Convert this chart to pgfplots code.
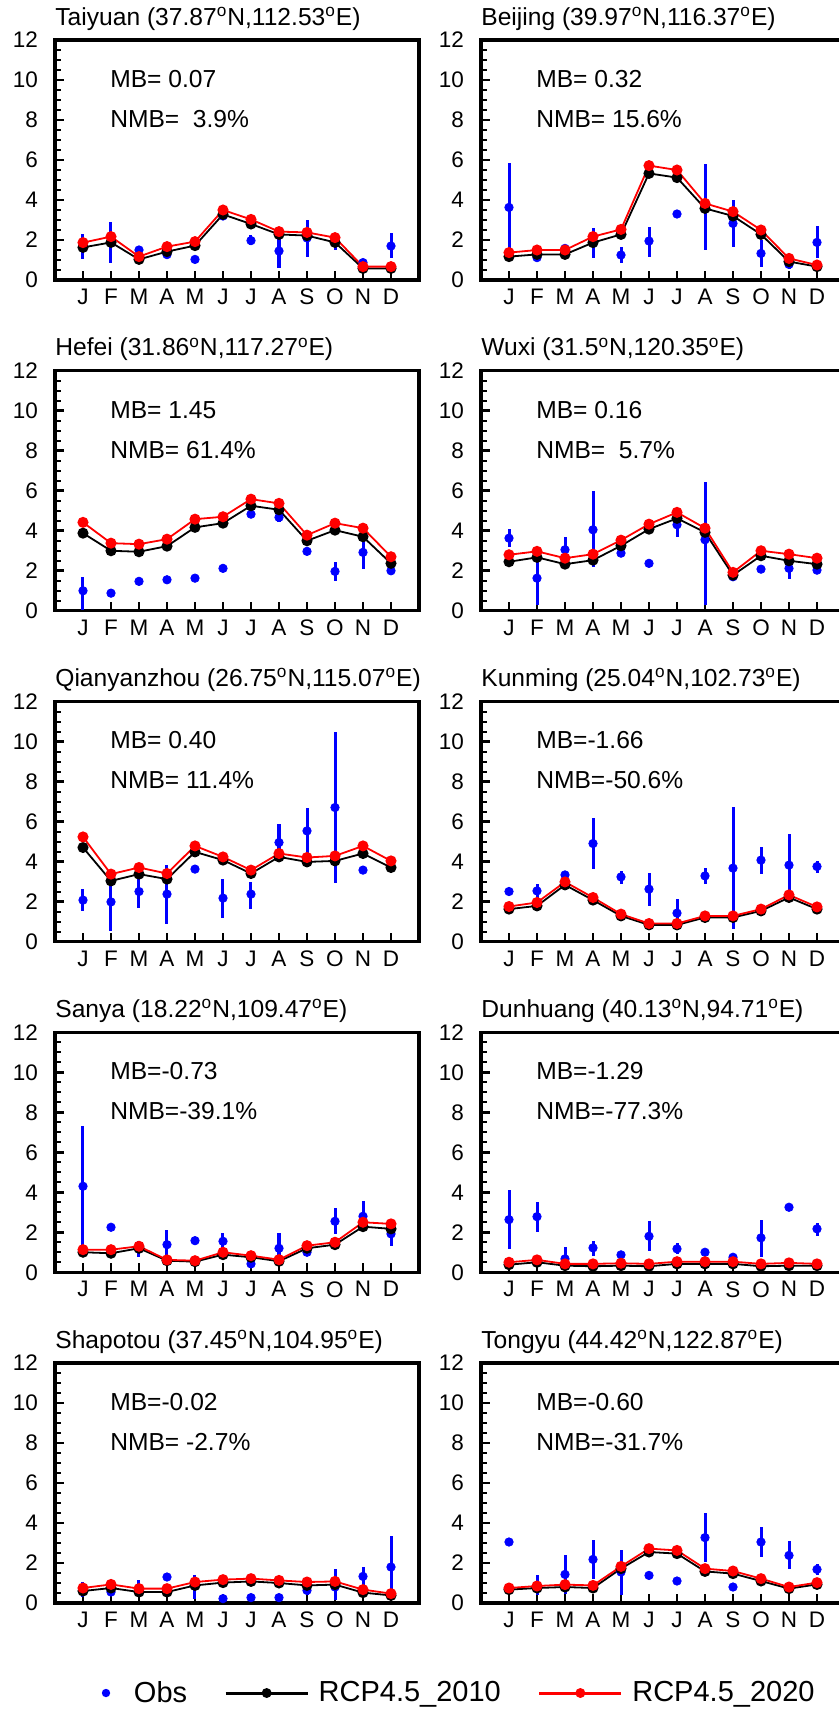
\documentclass[border=0pt]{standalone}
\usepackage{pgfplots}
\pgfplotsset{compat=1.18}
\usepackage{pgfplotstable}
\usepackage{fontspec}
\setmainfont{Liberation Sans}

\pgfplotstableread{
m b r o lo hi
1 1.63 1.87 1.70 1.05 2.30
2 1.88 2.17 1.90 0.83 2.92
3 1.03 1.17 1.50 1.40 1.60
4 1.42 1.67 1.27 1.15 1.40
5 1.72 1.92 1.03 1.03 1.03
6 3.28 3.50 3.20 3.00 3.40
7 2.80 3.03 1.97 1.75 2.25
8 2.28 2.42 1.45 0.58 2.33
9 2.22 2.38 2.10 1.17 3.00
10 1.88 2.12 1.95 1.50 2.33
11 0.58 0.67 0.87 0.75 0.95
12 0.58 0.67 1.70 1.08 2.33
}\tabTaiyuan

\pgfplotstableread{
m b r o lo hi
1 1.17 1.37 3.63 1.40 5.87
2 1.28 1.50 1.12 1.05 1.25
3 1.28 1.50 1.58 1.45 1.70
4 1.87 2.17 1.92 1.08 2.58
5 2.28 2.53 1.25 0.83 1.67
6 5.33 5.72 1.95 1.17 2.67
7 5.12 5.50 3.30 3.30 3.30
8 3.58 3.83 3.60 1.50 5.80
9 3.20 3.42 2.83 1.67 4.00
10 2.28 2.50 1.33 0.67 2.00
11 0.92 1.08 0.78 0.55 1.00
12 0.67 0.75 1.88 1.08 2.70
}\tabBeijing

\pgfplotstableread{
m b r o lo hi
1 3.88 4.42 1.00 0.05 1.70
2 3.00 3.38 0.88 0.70 1.10
3 2.95 3.33 1.47 1.47 1.47
4 3.23 3.58 1.55 1.55 1.55
5 4.17 4.58 1.63 1.63 1.63
6 4.38 4.70 2.12 2.12 2.12
7 5.25 5.58 4.83 4.83 4.83
8 5.05 5.37 4.67 4.45 4.95
9 3.50 3.78 2.97 2.97 2.97
10 4.03 4.38 1.97 1.47 2.42
11 3.70 4.13 2.92 2.10 3.70
12 2.37 2.70 2.00 2.00 2.00
}\tabHefei

\pgfplotstableread{
m b r o lo hi
1 2.45 2.80 3.63 3.17 4.08
2 2.67 2.97 1.63 0.30 2.80
3 2.33 2.63 3.05 2.33 3.67
4 2.53 2.83 4.05 2.17 5.97
5 3.25 3.53 2.88 2.70 3.10
6 4.08 4.33 2.37 2.37 2.37
7 4.62 4.92 4.30 3.70 4.92
8 3.92 4.13 3.55 0.30 6.45
9 1.78 1.92 1.70 1.70 1.70
10 2.75 3.00 2.08 2.08 2.08
11 2.50 2.83 2.12 1.58 2.67
12 2.33 2.63 2.03 1.90 2.30
}\tabWuxi

\pgfplotstableread{
m b r o lo hi
1 4.70 5.23 2.07 1.53 2.62
2 3.03 3.37 1.98 0.53 3.37
3 3.37 3.70 2.50 1.70 3.37
4 3.12 3.40 2.37 0.87 3.83
5 4.48 4.78 3.62 3.62 3.62
6 4.07 4.23 2.17 1.17 3.12
7 3.40 3.57 2.37 1.62 3.00
8 4.23 4.40 4.95 4.03 5.87
9 3.98 4.20 5.53 4.20 6.70
10 4.03 4.28 6.70 2.95 10.50
11 4.40 4.78 3.57 3.57 3.57
12 3.70 4.03 3.73 3.73 3.73
}\tabQianyanzhou

\pgfplotstableread{
m b r o lo hi
1 1.62 1.75 2.50 2.50 2.50
2 1.78 1.95 2.53 2.00 2.90
3 2.83 2.98 3.33 3.20 3.50
4 2.07 2.20 4.90 3.62 6.20
5 1.28 1.37 3.23 2.90 3.53
6 0.83 0.90 2.62 1.78 3.42
7 0.83 0.90 1.42 0.70 2.12
8 1.20 1.28 3.28 2.87 3.70
9 1.20 1.28 3.67 0.62 6.75
10 1.53 1.62 4.07 3.37 4.73
11 2.20 2.33 3.82 2.37 5.37
12 1.62 1.73 3.75 3.45 4.03
}\tabKunming

\pgfplotstableread{
m b r o lo hi
1 1.00 1.13 4.30 1.10 7.33
2 0.95 1.13 2.25 2.25 2.25
3 1.20 1.30 1.17 0.75 1.58
4 0.58 0.62 1.38 0.58 2.12
5 0.53 0.58 1.58 1.58 1.58
6 0.88 1.00 1.55 1.08 1.95
7 0.75 0.83 0.42 0.42 0.42
8 0.55 0.63 1.20 0.58 1.95
9 1.20 1.33 1.00 1.00 1.00
10 1.38 1.50 2.55 1.92 3.22
11 2.28 2.50 2.80 2.08 3.55
12 2.17 2.42 1.92 1.33 2.50
}\tabSanya

\pgfplotstableread{
m b r o lo hi
1 0.38 0.50 2.63 1.17 4.12
2 0.50 0.62 2.78 2.00 3.53
3 0.33 0.42 0.67 0.25 1.25
4 0.30 0.42 1.22 0.83 1.58
5 0.33 0.45 0.87 0.87 0.87
6 0.30 0.42 1.80 1.08 2.55
7 0.42 0.53 1.17 0.92 1.45
8 0.42 0.53 1.00 1.00 1.00
9 0.42 0.53 0.75 0.60 0.90
10 0.30 0.42 1.72 0.75 2.62
11 0.33 0.47 3.25 3.25 3.25
12 0.33 0.42 2.17 1.83 2.47
}\tabDunhuang

\pgfplotstableread{
m b r o lo hi
1 0.60 0.75 0.70 0.30 1.05
2 0.75 0.93 0.55 0.55 0.55
3 0.55 0.72 0.60 0.30 1.13
4 0.55 0.72 1.30 1.30 1.30
5 0.88 1.05 0.88 0.22 1.38
6 1.02 1.17 0.22 0.22 0.22
7 1.08 1.22 0.27 0.27 0.27
8 1.00 1.13 0.27 0.27 0.27
9 0.88 1.05 0.63 0.40 0.85
10 0.92 1.08 0.80 0.13 1.72
11 0.52 0.67 1.33 0.63 1.80
12 0.38 0.47 1.80 0.38 3.33
}\tabShapotou

\pgfplotstableread{
m b r o lo hi
1 0.67 0.75 3.05 3.05 3.05
2 0.75 0.85 0.88 0.38 1.38
3 0.80 0.92 1.43 0.47 2.38
4 0.75 0.88 2.18 1.22 3.13
5 1.72 1.83 1.55 0.38 2.63
6 2.55 2.72 1.38 1.38 1.38
7 2.47 2.63 1.10 1.10 1.10
8 1.58 1.72 3.27 2.05 4.50
9 1.47 1.60 0.80 0.60 1.00
10 1.10 1.22 3.05 2.30 3.80
11 0.72 0.80 2.38 1.72 3.10
12 0.93 1.02 1.68 1.38 1.97
}\tabTongyu

\pgfplotsset{
  panel/.style={
    anchor=south west, x=14pt, y=10pt, scale only axis,
    xmin=0, xmax=13, ymin=0, ymax=12,
    axis line style={line width=1.6pt},
    xtick={1,...,12}, xticklabels={J,F,M,A,M,J,J,A,S,O,N,D},
    ytick={0,2,...,12}, minor y tick num=3,
    tick align=inside, xtick pos=bottom, ytick pos=left,
    major tick length=4.5pt, minor tick length=3pt,
    major tick style={line width=1.4pt, black},
    minor tick style={line width=1pt, black},
    /pgf/number format/assume math mode=true,
    tick label style={font=\fontsize{11.25}{13}\selectfont},
    yticklabel style={xshift=-5pt},
    xticklabel style={yshift=-1pt},
    every axis title shift=0pt,
    title style={at={(0,1)}, anchor=base west, yshift=7.5pt, inner sep=0pt,
      font=\fontsize{12.3}{14}\selectfont},
    clip=false,
  },
  obs/.style={only marks, mark=*, mark size=2.1pt,
    mark options={draw=blue, fill=blue},
    error bars/.cd, y dir=both, y explicit, error mark=none,
    error bar style={line width=1.5pt, blue}},
  m2010/.style={black, line width=0.9pt, mark=*, mark size=2.3pt,
    mark options={solid, fill=black}},
  m2020/.style={red, line width=0.9pt, mark=*, mark size=2.3pt,
    mark options={solid, fill=red}},
}

\newcommand{\panel}[6]{%
\begin{axis}[panel, at={(#1,#2)}, title={#4}]
\addplot[obs] table[x=m, y=o,
  y error plus expr=\thisrow{hi}-\thisrow{o},
  y error minus expr=\thisrow{o}-\thisrow{lo}]{#3};
\addplot[m2010] table[x=m, y=b]{#3};
\addplot[m2020] table[x=m, y=r]{#3};
\node[anchor=base west, inner sep=0pt, font=\fontsize{12.3}{14}\selectfont]
  at (axis cs:1.96,9.63) {#5};
\node[anchor=base west, inner sep=0pt, font=\fontsize{12.3}{14}\selectfont]
  at (axis cs:1.96,7.63) {#6};
\end{axis}}

\newcommand{\dg}{\textsuperscript{o}}

\begin{document}
\begin{tikzpicture}
\panel{27.5pt}{-140pt}{\tabTaiyuan}{Taiyuan (37.87\dg N,112.53\dg E)}{MB= 0.07}{NMB=\ \ 3.9\%}
\panel{240.5pt}{-140pt}{\tabBeijing}{Beijing (39.97\dg N,116.37\dg E)}{MB= 0.32}{NMB= 15.6\%}
\panel{27.5pt}{-305.375pt}{\tabHefei}{Hefei (31.86\dg N,117.27\dg E)}{MB= 1.45}{NMB= 61.4\%}
\panel{240.5pt}{-305.375pt}{\tabWuxi}{Wuxi (31.5\dg N,120.35\dg E)}{MB= 0.16}{NMB=\ \ 5.7\%}
\panel{27.5pt}{-470.75pt}{\tabQianyanzhou}{Qianyanzhou (26.75\dg N,115.07\dg E)}{MB= 0.40}{NMB= 11.4\%}
\panel{240.5pt}{-470.75pt}{\tabKunming}{Kunming (25.04\dg N,102.73\dg E)}{MB=-1.66}{NMB=-50.6\%}
\panel{27.5pt}{-636.125pt}{\tabSanya}{Sanya (18.22\dg N,109.47\dg E)}{MB=-0.73}{NMB=-39.1\%}
\panel{240.5pt}{-636.125pt}{\tabDunhuang}{Dunhuang (40.13\dg N,94.71\dg E)}{MB=-1.29}{NMB=-77.3\%}
\panel{27.5pt}{-801.5pt}{\tabShapotou}{Shapotou (37.45\dg N,104.95\dg E)}{MB=-0.02}{NMB= -2.7\%}
\panel{240.5pt}{-801.5pt}{\tabTongyu}{Tongyu (44.42\dg N,122.87\dg E)}{MB=-0.60}{NMB=-31.7\%}

\begin{axis}[anchor=south west, at={(50pt,-846.5pt)}, x=1pt, y=1pt,
  xmin=0, xmax=1, ymin=0, ymax=1, hide axis, scale only axis,
  legend columns=3,
  legend cell align=left,
  legend style={at={(0,0)}, anchor=west, draw=none, fill=none,
    inner sep=0pt, outer sep=0pt,
    font=\fontsize{14.5}{17}\selectfont,
    nodes={inner sep=0pt},
    /tikz/every even column/.append style={column sep=18.5pt}}]
\addlegendimage{draw=none, legend image code/.code={
  \path[draw=none, fill=none] (-3pt,0pt) -- (14pt,0pt);
  \fill[blue] (0pt,0pt) circle (2.1pt);}}
\addlegendentry{Obs}
\addlegendimage{draw=none, legend image code/.code={
  \path[draw=none, fill=none] (0pt,0pt) -- (46.5pt,0pt);
  \draw[black, line width=1.5pt] (0pt,0pt) -- (41pt,0pt);
  \fill[black] (20.5pt,0pt) circle (2.5pt);}}
\addlegendentry{RCP4.5\_2010}
\addlegendimage{draw=none, legend image code/.code={
  \path[draw=none, fill=none] (0pt,0pt) -- (46.5pt,0pt);
  \draw[red, line width=1.5pt] (0pt,0pt) -- (41pt,0pt);
  \fill[red] (20.5pt,0pt) circle (2.5pt);}}
\addlegendentry{RCP4.5\_2020}
\end{axis}

\pgfresetboundingbox
\path[use as bounding box] (0pt,0pt) rectangle (419.5pt,-855pt);
\end{tikzpicture}
\end{document}
